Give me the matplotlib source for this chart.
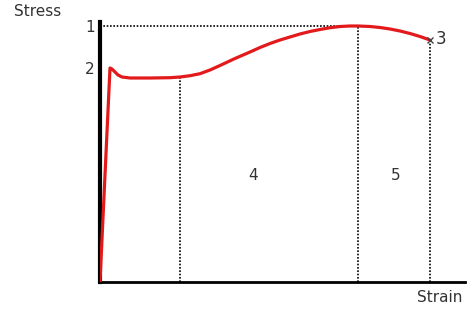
import numpy as np
import matplotlib
matplotlib.use("Agg")
import matplotlib.pyplot as plt

# stress-strain curve (arbitrary units)
strain = [0, 10, 12, 15, 18, 22, 30, 50, 70, 80, 90, 100, 110, 120, 135, 150, 160, 170, 180,
          190, 200, 210, 220, 230, 240, 250, 258, 270, 280, 290, 300, 310, 320, 330]
stress = [0, 214, 213, 210, 207, 205, 204, 204, 204.3, 205, 206.3, 208.3, 212, 216.5, 223.5, 230, 234.5, 238.5, 242,
          245, 248, 250.5, 252.5, 254.3, 255.5, 256, 256, 255.5, 254.5, 253, 251, 248.5, 245.5, 242]

# marked points
ultimate = (258, 256)     # 1
yield_pt = 214            # 2
fracture = (330, 242)     # 3
necking_start = 80
region_labels = ["4", "5"]
region_pos = [(153, 107), (296, 107)]

fig = plt.figure(figsize=(4.73, 3.12), dpi=100)
ax = fig.add_axes([100/473, 30/312, 365/473, 260/312])

ax.plot(strain, stress, color="#e31a1c", lw=2.3, solid_capstyle="butt",
        solid_joinstyle="round", zorder=3)
ax.plot(*fracture, marker="x", color="#444444", ms=4, mew=1, zorder=4)

dot = dict(color="black", lw=1.2, ls=(0, (1, 1)), zorder=2)
ax.plot([0, ultimate[0]], [ultimate[1], ultimate[1]], **dot)
ax.plot([ultimate[0], ultimate[0]], [0, ultimate[1]], **dot)
ax.plot([necking_start, necking_start], [0, 205], **dot)
ax.plot([fracture[0], fracture[0]], [0, fracture[1]], **dot)

ax.set_xlim(0, 365)
ax.set_ylim(0, 260)
for s in ["top", "right"]:
    ax.spines[s].set_visible(False)
ax.spines["left"].set_linewidth(3)
ax.spines["bottom"].set_linewidth(2)
ax.set_xticks([])
ax.set_yticks([ultimate[1], yield_pt])
ax.set_yticklabels(["1", "2"], fontsize=11, color="#333333")
ax.tick_params(axis="y", length=0, pad=4)

ax.text(fracture[0] + 6, fracture[1] + 1, "3", fontsize=12, color="#333333", va="center")
for lab, (x, y) in zip(region_labels, region_pos):
    ax.text(x, y, lab, fontsize=11, color="#333333", ha="center", va="center")

fig.text(14/473, 1 - 11/312, "Stress", fontsize=11, color="#333333", va="center")
fig.text(462/473, 1 - 298/312, "Strain", fontsize=11, color="#333333", va="center", ha="right")

fig.savefig("out.png", dpi=100)
